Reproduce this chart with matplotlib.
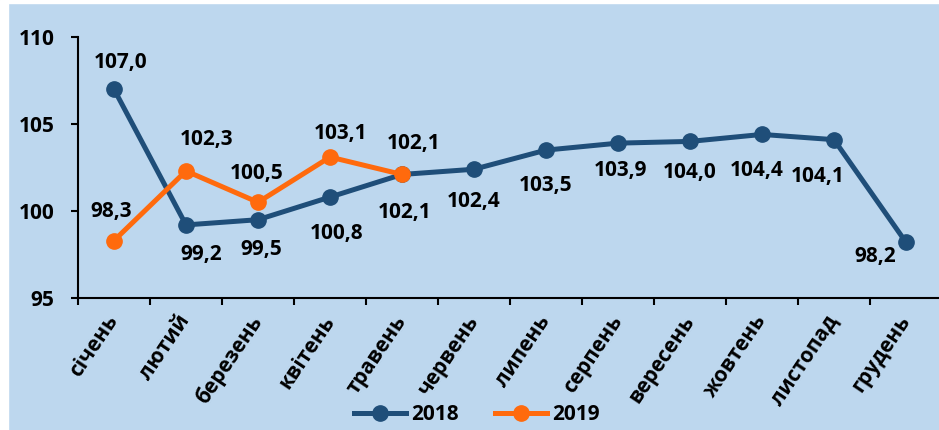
import matplotlib
matplotlib.use('Agg')
import matplotlib.pyplot as plt
from matplotlib.patches import Rectangle
import numpy as np

plt.rcParams['font.family'] = ['Open Sans', 'DejaVu Sans']
plt.rcParams['font.weight'] = 'bold'

months = ['січень', 'лютий', 'березень', 'квітень', 'травень', 'червень',
          'липень', 'серпень', 'вересень', 'жовтень', 'листопад', 'грудень']
values_2018 = [107.0, 99.2, 99.5, 100.8, 102.1, 102.4, 103.5, 103.9, 104.0, 104.4, 104.1, 98.2]
values_2019 = [98.3, 102.3, 100.5, 103.1, 102.1]
y_ticks = [95, 100, 105, 110]

# label offsets in pixels (dx, dy; dy positive = up)
offs_2018 = [(7, 27), (15, -30), (3, -30), (7, -36), (3, -38), (0, -32),
             (0, -35), (3, -27), (0, -31), (-5, -36), (-16, -37), (-31, -14)]
offs_2019 = [(-3, 29), (21, 31), (-1, 29), (11, 24), (12, 31)]

BG = '#BDD7EE'
C2018 = '#1F4E79'
C2019 = '#FF6A0D'

W, H = 939, 430
fig = plt.figure(figsize=(W / 100, H / 100), dpi=100)
fig.patch.set_facecolor(BG)
# white strips at top and left edge
fig.patches.append(Rectangle((0, 0), 8 / W, 1, transform=fig.transFigure, color='white', zorder=0))
fig.patches.append(Rectangle((0, 1 - 3 / H), 1, 3 / H, transform=fig.transFigure, color='white', zorder=0))

ax = fig.add_axes([78 / W, 132 / H, 864 / W, 261 / H])
ax.set_facecolor('none')

x = np.arange(len(months))
ax.plot(x, values_2018, color=C2018, lw=3.6, marker='o', ms=11, label='2018', zorder=3)
ax.plot(x[:len(values_2019)], values_2019, color=C2019, lw=3.6, marker='o', ms=11, label='2019', zorder=4)

def fmt(v):
    return f'{v:.1f}'.replace('.', ',')

for i, v in enumerate(values_2018):
    dx, dy = offs_2018[i]
    ax.annotate(fmt(v), (i, v), xytext=(dx * 0.72, dy * 0.72), textcoords='offset points',
                ha='center', va='center', fontsize=15, fontweight='bold', color='black')
for i, v in enumerate(values_2019):
    dx, dy = offs_2019[i]
    ax.annotate(fmt(v), (i, v), xytext=(dx * 0.72, dy * 0.72), textcoords='offset points',
                ha='center', va='center', fontsize=15, fontweight='bold', color='black')

ax.set_xlim(-0.5, 11.5)
ax.set_ylim(95, 110)
ax.set_yticks(y_ticks)
ax.set_yticklabels([str(t) for t in y_ticks], fontsize=15, fontweight='bold')
ax.tick_params(axis='y', length=5, width=1.5, pad=12)

ax.set_xticks(x)
ax.set_xticklabels(months, fontsize=15, fontweight='bold', rotation=56,
                   ha='right', va='center', rotation_mode='anchor')
ax.tick_params(axis='x', which='major', length=0, pad=14)
ax.set_xticks(np.arange(-0.5, 12, 1), minor=True)
ax.tick_params(axis='x', which='minor', length=5, width=1.5)

for s in ['top', 'right']:
    ax.spines[s].set_visible(False)
for s in ['left', 'bottom']:
    ax.spines[s].set_linewidth(1.5)

fig.legend(loc='center', bbox_to_anchor=(477 / W, 15 / H), ncol=2, frameon=False,
           prop={'size': 15, 'weight': 'bold'}, handlelength=2.5, handletextpad=0.25,
           columnspacing=1.7)

fig.savefig('out.png', dpi=100, facecolor=BG)
